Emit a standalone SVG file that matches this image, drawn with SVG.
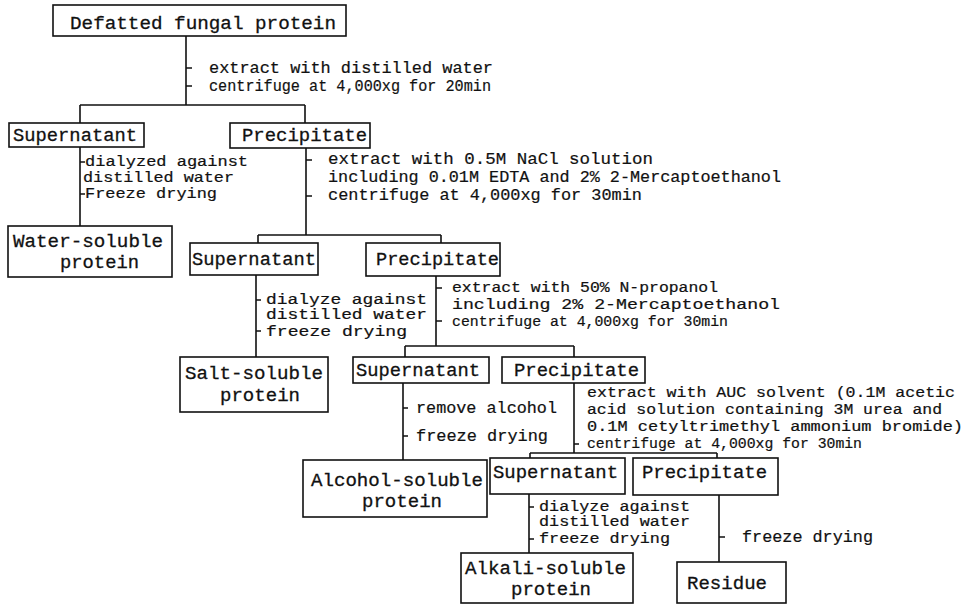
<svg xmlns="http://www.w3.org/2000/svg" width="969" height="604" viewBox="0 0 969 604">
<style>
  .box { fill: #fff; stroke: #111; stroke-width: 1.6; }
  .lbl { font-family: "Liberation Mono", "DejaVu Sans Mono", monospace; font-size: 19px; fill: #111; stroke: #111; stroke-width: 0.3; }
  .ann { font-family: "Liberation Mono", "DejaVu Sans Mono", monospace; font-size: 16px; fill: #111; stroke: #111; stroke-width: 0.2; }
  .sm { font-size: 14px; }
  .ln { fill: none; stroke: #111; stroke-width: 1.6; }
</style>
<rect width="969" height="604" fill="#fff"/>

<g id="connectors">
  <path class="ln" d="M186,36 V105 M80,105 H305 M80,105 V123 M305,105 V123"/>
  <path class="ln" d="M186,68 h6 M186,86 h6"/>
  <path class="ln" d="M80,147 V226 M80,162 h5 M80,194 h5"/>
  <path class="ln" d="M306,148 V235 M306,160 h6 M306,196 h6 M258,235 H441 M258,235 V243 M441,235 V243"/>
  <path class="ln" d="M256,275 V357 M256,300 h5 M256,331 h5"/>
  <path class="ln" d="M436,276 V346 M436,288 h6 M436,321 h6 M405,346 H574 M405,346 V357 M574,346 V357"/>
  <path class="ln" d="M403,383 V460 M403,408 h5 M403,436 h5"/>
  <path class="ln" d="M574,383 V453 M574,444 h5 M530,453 H717 M530,453 V458 M717,453 V458"/>
  <path class="ln" d="M529,494 V553 M529,507 h5 M529,539 h5"/>
  <path class="ln" d="M719,495 V562 M719,537 h6"/>
</g>

<g id="n-defatted">
  <rect class="box" x="53" y="5" width="293" height="31"/>
  <text class="lbl" x="70" y="29" textLength="266" lengthAdjust="spacingAndGlyphs">Defatted fungal protein</text>
</g>
<g id="a-water-extract">
  <text class="ann" x="209" y="73" textLength="284" lengthAdjust="spacingAndGlyphs">extract with distilled water</text>
  <text class="ann" x="209" y="91" textLength="282" lengthAdjust="spacingAndGlyphs">centrifuge at 4,000xg for 20min</text>
</g>

<g id="n-sup1">
  <rect class="box" x="9" y="123" width="135" height="24"/>
  <text class="lbl" x="13" y="141" textLength="124" lengthAdjust="spacingAndGlyphs">Supernatant</text>
</g>
<g id="n-pre1">
  <rect class="box" x="230" y="123" width="140" height="25"/>
  <text class="lbl" x="242" y="141" textLength="125" lengthAdjust="spacingAndGlyphs">Precipitate</text>
</g>
<g id="a-dialyzed">
  <text class="ann sm" x="85" y="166" textLength="163" lengthAdjust="spacingAndGlyphs">dialyzed against</text>
  <text class="ann sm" x="83" y="182" textLength="151" lengthAdjust="spacingAndGlyphs">distilled water</text>
  <text class="ann sm" x="85" y="198" textLength="132" lengthAdjust="spacingAndGlyphs">Freeze drying</text>
</g>
<g id="n-water">
  <rect class="box" x="8" y="226" width="164" height="51"/>
  <text class="lbl" x="13" y="247" textLength="150" lengthAdjust="spacingAndGlyphs">Water-soluble</text>
  <text class="lbl" x="60" y="268" textLength="79" lengthAdjust="spacingAndGlyphs">protein</text>
</g>
<g id="a-nacl">
  <text class="ann" x="328" y="164" textLength="325" lengthAdjust="spacingAndGlyphs">extract with 0.5M NaCl solution</text>
  <text class="ann" x="328" y="182" textLength="453" lengthAdjust="spacingAndGlyphs">including 0.01M EDTA and 2% 2-Mercaptoethanol</text>
  <text class="ann" x="328" y="200" textLength="314" lengthAdjust="spacingAndGlyphs">centrifuge at 4,000xg for 30min</text>
</g>

<g id="n-sup2">
  <rect class="box" x="190" y="243" width="128" height="32"/>
  <text class="lbl" x="192" y="265" textLength="124" lengthAdjust="spacingAndGlyphs">Supernatant</text>
</g>
<g id="n-pre2">
  <rect class="box" x="366" y="243" width="134" height="33"/>
  <text class="lbl" x="376" y="265" textLength="123" lengthAdjust="spacingAndGlyphs">Precipitate</text>
</g>
<g id="a-salt">
  <text class="ann sm" x="266" y="304" textLength="161" lengthAdjust="spacingAndGlyphs">dialyze against</text>
  <text class="ann sm" x="266" y="319" textLength="161" lengthAdjust="spacingAndGlyphs">distilled water</text>
  <text class="ann sm" x="266" y="336" textLength="141" lengthAdjust="spacingAndGlyphs">freeze drying</text>
</g>
<g id="n-salt">
  <rect class="box" x="180" y="357" width="148" height="55"/>
  <text class="lbl" x="185" y="379" textLength="138" lengthAdjust="spacingAndGlyphs">Salt-soluble</text>
  <text class="lbl" x="220" y="401" textLength="80" lengthAdjust="spacingAndGlyphs">protein</text>
</g>
<g id="a-propanol">
  <text class="ann sm" x="452" y="292" textLength="266" lengthAdjust="spacingAndGlyphs">extract with 50% N-propanol</text>
  <text class="ann sm" x="452" y="309" textLength="328" lengthAdjust="spacingAndGlyphs">including 2% 2-Mercaptoethanol</text>
  <text class="ann sm" x="452" y="326" textLength="276" lengthAdjust="spacingAndGlyphs">centrifuge at 4,000xg for 30min</text>
</g>

<g id="n-sup3">
  <rect class="box" x="353" y="357" width="136" height="26"/>
  <text class="lbl" x="356" y="376" textLength="124" lengthAdjust="spacingAndGlyphs">Supernatant</text>
</g>
<g id="n-pre3">
  <rect class="box" x="502" y="357" width="143" height="26"/>
  <text class="lbl" x="514" y="376" textLength="125" lengthAdjust="spacingAndGlyphs">Precipitate</text>
</g>
<g id="a-alcohol">
  <text class="ann" x="416" y="413" textLength="141" lengthAdjust="spacingAndGlyphs">remove alcohol</text>
  <text class="ann" x="416" y="441" textLength="132" lengthAdjust="spacingAndGlyphs">freeze drying</text>
</g>
<g id="n-alcohol">
  <rect class="box" x="303" y="460" width="184" height="57"/>
  <text class="lbl" x="311" y="486" textLength="172" lengthAdjust="spacingAndGlyphs">Alcohol-soluble</text>
  <text class="lbl" x="362" y="507" textLength="80" lengthAdjust="spacingAndGlyphs">protein</text>
</g>
<g id="a-auc">
  <text class="ann sm" x="587" y="397" textLength="368" lengthAdjust="spacingAndGlyphs">extract with AUC solvent (0.1M acetic</text>
  <text class="ann sm" x="587" y="414" textLength="355" lengthAdjust="spacingAndGlyphs">acid solution containing 3M urea and</text>
  <text class="ann sm" x="587" y="431" textLength="376" lengthAdjust="spacingAndGlyphs">0.1M cetyltrimethyl ammonium bromide)</text>
  <text class="ann sm" x="587" y="448" textLength="275" lengthAdjust="spacingAndGlyphs">centrifuge at 4,000xg for 30min</text>
</g>

<g id="n-sup4">
  <rect class="box" x="490" y="458" width="135" height="36"/>
  <text class="lbl" x="493" y="478" textLength="125" lengthAdjust="spacingAndGlyphs">Supernatant</text>
</g>
<g id="n-pre4">
  <rect class="box" x="633" y="458" width="145" height="37"/>
  <text class="lbl" x="642" y="478" textLength="125" lengthAdjust="spacingAndGlyphs">Precipitate</text>
</g>
<g id="a-alkali">
  <text class="ann sm" x="539" y="511" textLength="151" lengthAdjust="spacingAndGlyphs">dialyze against</text>
  <text class="ann sm" x="539" y="526" textLength="151" lengthAdjust="spacingAndGlyphs">distilled water</text>
  <text class="ann sm" x="539" y="543" textLength="131" lengthAdjust="spacingAndGlyphs">freeze drying</text>
</g>
<g id="n-alkali">
  <rect class="box" x="461" y="553" width="172" height="50"/>
  <text class="lbl" x="465" y="574" textLength="161" lengthAdjust="spacingAndGlyphs">Alkali-soluble</text>
  <text class="lbl" x="511" y="595" textLength="80" lengthAdjust="spacingAndGlyphs">protein</text>
</g>
<g id="a-residue">
  <text class="ann" x="742" y="542" textLength="131" lengthAdjust="spacingAndGlyphs">freeze drying</text>
</g>
<g id="n-residue">
  <rect class="box" x="677" y="562" width="109" height="41"/>
  <text class="lbl" x="687" y="589" textLength="80" lengthAdjust="spacingAndGlyphs">Residue</text>
</g>
</svg>
